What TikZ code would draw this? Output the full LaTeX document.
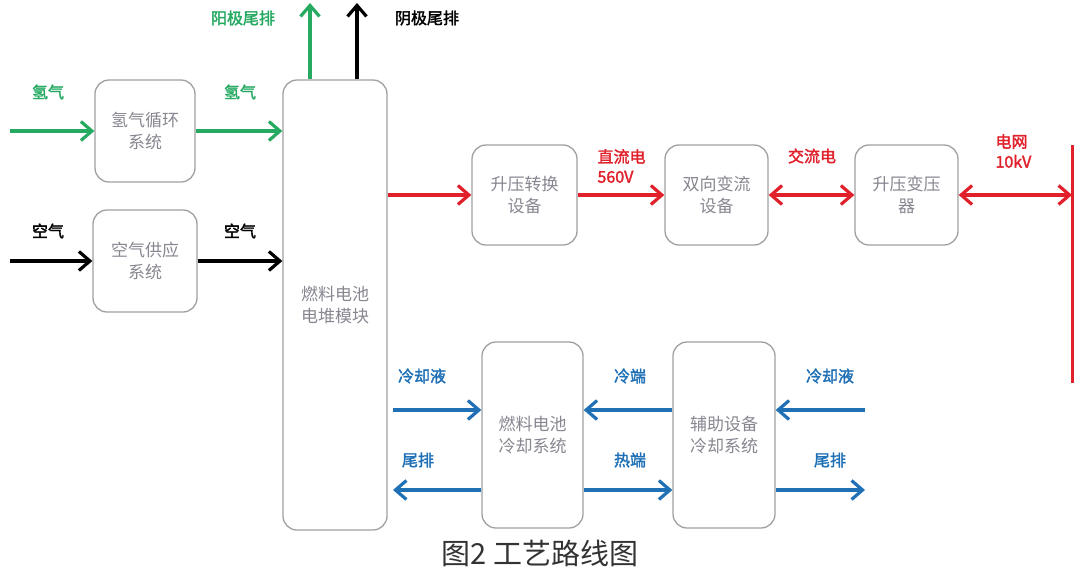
\documentclass[tikz,border=0pt]{standalone}
\usepackage{fontspec}
\setmainfont{Liberation Sans}
\newfontfamily\cjk{Noto Sans CJK SC}
\newfontfamily\cjkbf[FakeBold=2]{Noto Sans CJK SC}
\usetikzlibrary{arrows.meta}
\definecolor{hgreen}{RGB}{38,170,98}
\definecolor{pwrred}{RGB}{224,32,42}
\definecolor{coolblue}{RGB}{32,112,182}
\definecolor{boxgray}{RGB}{160,160,160}
\definecolor{txtgray}{RGB}{135,135,145}
\begin{document}
\begin{tikzpicture}[x=1pt, y=-1pt,
  every node/.style={font=\cjk\fontsize{17}{22}\selectfont},
  unit/.style={draw=boxgray, line width=1.3pt, rounded corners=14pt, fill=white,
    text=txtgray, align=center, inner sep=0pt},
  flow/.style={line width=3.5pt, -{Straight Barb[length=11pt,width=19pt,line width=3.2pt]}},
  biflow/.style={line width=3.5pt, {Straight Barb[length=11pt,width=19pt,line width=3.2pt]}-{Straight Barb[length=11pt,width=19pt,line width=3.2pt]}},
  lbl/.style={font=\cjkbf\fontsize{16}{20}\selectfont, align=left}]
  \useasboundingbox (0,0) rectangle (1080,574);

  % Supply side
  \node[unit, minimum width=100pt, minimum height=102pt] (h2sys) at (145,131) {氢气循环\\系统};
  \node[unit, minimum width=104pt, minimum height=102pt] (airsys) at (145,261) {空气供应\\系统};
  \node[unit, minimum width=104pt, minimum height=450pt] (stack) at (335,305) {燃料电池\\电堆模块};

  % Power chain
  \node[unit, minimum width=105pt, minimum height=100pt] (boost) at (524.5,195) {升压转换\\设备};
  \node[unit, minimum width=103pt, minimum height=100pt] (conv) at (716.5,195) {双向变流\\设备};
  \node[unit, minimum width=103pt, minimum height=100pt] (xfmr) at (906.5,195) {升压变压\\器};

  % Cooling
  \node[unit, minimum width=101pt, minimum height=186pt] (fccool) at (532.5,435) {燃料电池\\冷却系统};
  \node[unit, minimum width=102pt, minimum height=186pt] (auxcool) at (724,435) {辅助设备\\冷却系统};

  \coordinate (h2src) at (10,131);
  \coordinate (airsrc) at (10,261);
  \coordinate (anodeout) at (310,3);
  \coordinate (cathout) at (357,3);
  \coordinate (gridtop) at (1072,145);
  \coordinate (gridbot) at (1072,383);
  \coordinate (fcin) at (393,410);
  \coordinate (fcout) at (393,490);
  \coordinate (auxin) at (865,410);
  \coordinate (auxout) at (865,490);

  % Hydrogen and air
  \draw[flow, hgreen] (h2src) -- (h2sys);
  \draw[flow, hgreen] (h2sys) -- (h2sys -| stack.west);
  \draw[flow, hgreen] (stack.north -| anodeout) -- (anodeout);
  \draw[flow, black] (stack.north -| cathout) -- (cathout);
  \draw[flow, black] (airsrc) -- (airsys);
  \draw[flow, black] (airsys) -- (airsys -| stack.west);

  \node[lbl, text=hgreen] (h2srclbl) at (48,92) {氢气};
  \node[lbl, text=hgreen] (h2lbl) at (240,92) {氢气};
  \node[lbl, text=hgreen] (anodelbl) at (243,18) {阳极尾排};
  \node[lbl, text=black] (cathlbl) at (427,18) {阴极尾排};
  \node[lbl, text=black] (airsrclbl) at (48,231) {空气};
  \node[lbl, text=black] (airlbl) at (240,231) {空气};

  % Electrical
  \draw[flow, pwrred] (boost -| stack.east) -- (boost);
  \draw[flow, pwrred] (boost) -- (conv);
  \draw[biflow, pwrred] (conv) -- (xfmr);
  \draw[biflow, pwrred] (xfmr) -- (xfmr -| gridtop);
  \draw[line width=3pt, pwrred] (gridtop) -- (gridbot);

  \node[lbl, text=pwrred, anchor=west] (dclbl) at (594,166) {直流电\\560V};
  \node[lbl, text=pwrred] (aclbl) at (812,156) {交流电};
  \node[lbl, text=pwrred, anchor=west] (gridlbl) at (992,151) {电网\\10kV};

  % Coolant loops
  \draw[flow, coolblue] (fcin) -- (fcin -| fccool.west);
  \draw[flow, coolblue] (fcout -| fccool.west) -- (fcout);
  \draw[flow, coolblue] (auxcool.west |- fcin) -- (fccool.east |- fcin);
  \draw[flow, coolblue] (fccool.east |- fcout) -- (auxcool.west |- fcout);
  \draw[flow, coolblue] (auxin) -- (auxin -| auxcool.east);
  \draw[flow, coolblue] (auxcool.east |- auxout) -- (auxout);

  \node[lbl, text=coolblue] (fcinlbl) at (422,376) {冷却液};
  \node[lbl, text=coolblue] (fcoutlbl) at (418,460) {尾排};
  \node[lbl, text=coolblue] (coldlbl) at (630,376) {冷端};
  \node[lbl, text=coolblue] (hotlbl) at (630,460) {热端};
  \node[lbl, text=coolblue] (auxinlbl) at (830,376) {冷却液};
  \node[lbl, text=coolblue] (auxoutlbl) at (830,460) {尾排};

  \node[font=\cjk\fontsize{29}{32}\selectfont, text=black!80] (caption) at (540,553) {图2\ 工艺路线图};
\end{tikzpicture}
\end{document}
